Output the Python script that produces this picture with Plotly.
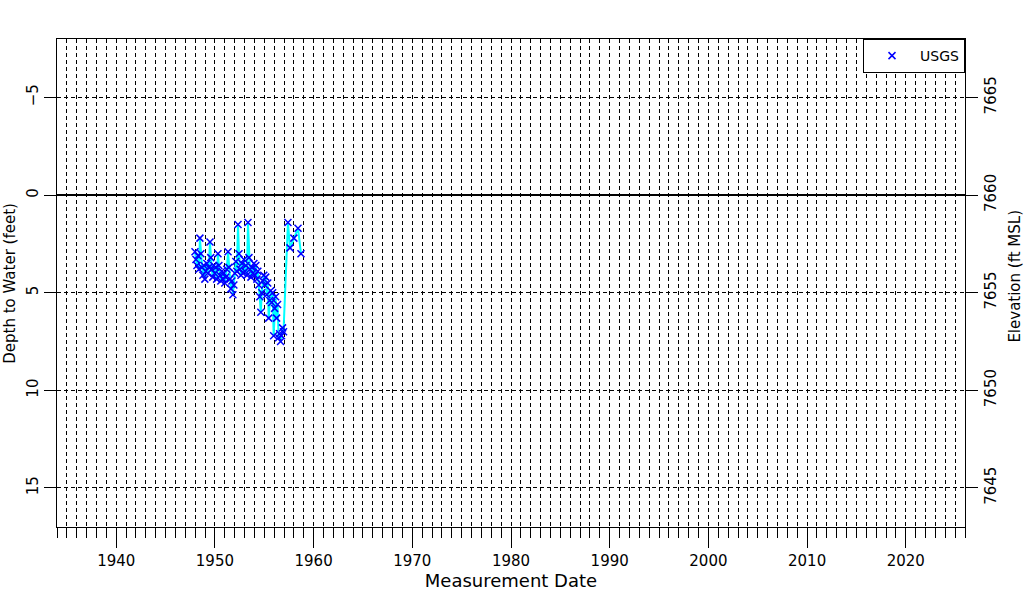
"""Hydrograph: depth to water with elevation on the right axis."""

import plotly.graph_objects as go

# ── Data ───────────────────────────────────────────────────────────────────
DATES = [
    1947.98, 1948.08, 1948.18, 1948.28, 1948.38, 1948.48, 1948.58, 1948.68,
    1948.78, 1948.88, 1948.98, 1949.08, 1949.18, 1949.28, 1949.38, 1949.50,
    1949.58, 1949.68, 1949.78, 1949.88, 1949.98, 1950.08, 1950.18, 1950.31,
    1950.40, 1950.50, 1950.60, 1950.70, 1950.80, 1950.90, 1951.00, 1951.10,
    1951.20, 1951.33, 1951.42, 1951.52, 1951.62, 1951.72, 1951.82, 1951.92,
    1952.02, 1952.12, 1952.22, 1952.34, 1952.44, 1952.54, 1952.64, 1952.74,
    1952.84, 1952.94, 1953.04, 1953.14, 1953.24, 1953.35, 1953.45, 1953.55,
    1953.65, 1953.75, 1953.85, 1953.95, 1954.05, 1954.15, 1954.25, 1954.35,
    1954.45, 1954.55, 1954.65, 1954.75, 1954.85, 1954.95, 1955.05, 1955.15,
    1955.25, 1955.35, 1955.45, 1955.55, 1955.65, 1955.75, 1955.85, 1955.95,
    1956.05, 1956.15, 1956.25, 1956.35, 1956.45, 1956.55, 1956.65, 1956.75,
    1956.85, 1956.95, 1957.40, 1957.61, 1958.00, 1958.42, 1958.72,
]
DEPTH_FT = [
    2.9, 3.3, 3.6, 3.1, 3.8, 2.2, 3.0, 3.7,
    4.1, 3.6, 4.3, 3.9, 3.5, 4.0, 3.7, 2.4,
    3.2, 3.8, 4.2, 3.6, 4.0, 3.7, 4.3, 3.0,
    3.6, 4.1, 4.4, 3.9, 4.3, 4.0, 4.5, 4.2,
    3.8, 2.9, 3.7, 4.3, 4.8, 4.4, 5.1, 4.6,
    4.0, 3.4, 3.9, 1.5, 3.0, 3.8, 4.1, 3.5,
    4.0, 3.3, 3.9, 3.6, 4.1, 1.4, 3.2, 3.8,
    4.2, 3.7, 4.0, 3.5, 4.1, 3.6, 4.3, 3.9,
    4.6, 5.2, 6.0, 5.0, 4.4, 4.1, 4.6, 4.2,
    5.1, 4.5, 6.3, 5.4, 4.9, 5.5, 5.0, 7.2,
    5.8, 5.2, 6.3, 5.6, 7.3, 7.1, 7.5, 7.2,
    6.8, 7.0, 1.4, 2.7, 2.2, 1.7, 3.0,
]
LAND_ELEV = 7660          # elevation of zero depth, ft MSL
DEPTH_RANGE = [17, -8]    # reversed: depth grows downward
DATE_RANGE = [1934, 2026]

# ── Styling ────────────────────────────────────────────────────────────────
FONT = "DejaVu Sans, Liberation Sans, sans-serif"
INK = "black"
DASH = "4px,3px"
MARKER = dict(symbol="x-thin-open", size=7, color="#0000ff",
              line=dict(color="#0000ff", width=1.5))

fig = go.Figure()
fig.add_trace(go.Scatter(
    x=DATES, y=DEPTH_FT, mode="lines+markers", name="USGS",
    line=dict(color="#00ffff", width=2), marker=MARKER, showlegend=False,
))
# legend entry shows the marker only
fig.add_trace(go.Scatter(
    x=[None], y=[None], mode="markers", name="USGS", marker=MARKER,
))
# invisible copy on the elevation axis so the right axis gets drawn
fig.add_trace(go.Scatter(
    x=DATES, y=[LAND_ELEV - d for d in DEPTH_FT], mode="markers",
    marker=dict(opacity=0), yaxis="y2", showlegend=False, hoverinfo="skip",
))

fig.update_layout(
    width=1024, height=600,
    paper_bgcolor="white", plot_bgcolor="white",
    font=dict(family=FONT, size=15, color=INK),
    margin=dict(l=57, r=59, t=39, b=73, autoexpand=False),
    showlegend=True,
    legend=dict(
        x=1, y=1, xanchor="right", yanchor="top",
        bgcolor="white", bordercolor=INK, borderwidth=1,
        font=dict(size=14, family=FONT), itemwidth=46,
    ),
    xaxis=dict(
        range=DATE_RANGE, tick0=1940, dtick=10, automargin=False,
        ticks="outside", ticklen=20, tickcolor=INK, tickwidth=1,
        showgrid=True, gridcolor=INK, griddash=DASH, gridwidth=1,
        showline=True, linecolor=INK, linewidth=1, mirror=True,
        zeroline=False,
        minor=dict(dtick=1, tick0=1934, ticks="outside", ticklen=10,
                   tickcolor=INK, showgrid=True, gridcolor=INK,
                   griddash=DASH, gridwidth=1),
        title=dict(text="Measurement Date", standoff=4),
    ),
    yaxis=dict(
        range=DEPTH_RANGE, tick0=0, dtick=5, tickangle=-90, automargin=False,
        ticks="outside", ticklen=12, tickcolor=INK,
        showgrid=True, gridcolor=INK, griddash=DASH, gridwidth=1,
        zeroline=True, zerolinecolor=INK, zerolinewidth=2,
        showline=True, linecolor=INK, linewidth=1,
    ),
    yaxis2=dict(
        range=[LAND_ELEV - DEPTH_RANGE[0], LAND_ELEV - DEPTH_RANGE[1]],
        overlaying="y", side="right", tick0=7645, dtick=5, tickangle=-90,
        automargin=False, ticks="outside", ticklen=12, tickcolor=INK,
        showgrid=False, zeroline=False,
        showline=True, linecolor=INK, linewidth=1,
    ),
)

# y titles as rotated annotations, placed out past the tick labels
for text, x, y in [("Depth to Water (feet)", -0.052, 0.50),
                   ("Elevation (ft MSL)", 1.055, 0.515)]:
    fig.add_annotation(
        text=text, x=x, y=y, xref="paper", yref="paper",
        xanchor="center", yanchor="middle", textangle=-90,
        showarrow=False, font=dict(size=15, family=FONT, color=INK),
    )

# drop the default page margin so the figure sits at the window corner
fig.write_html("out.html", config={"displayModeBar": False},
               post_script="document.body.style.margin='0px';")
